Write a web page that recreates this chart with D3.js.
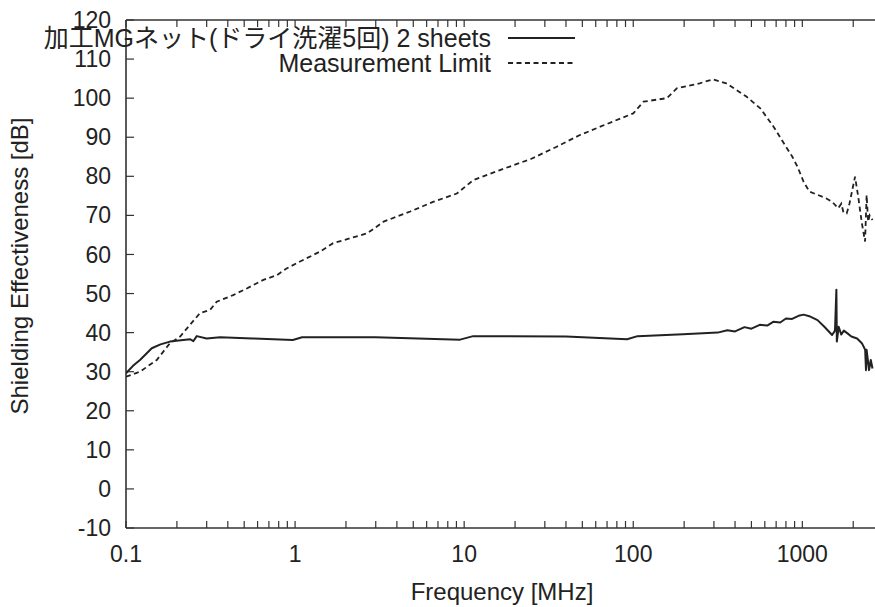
<!DOCTYPE html>
<html>
<head>
<meta charset="utf-8">
<script src="https://cdn.jsdelivr.net/npm/d3@7"></script>
<style>
  body { margin: 0; background: #fff; }
  svg { display: block; font-family: "Liberation Sans", Arial, "Noto Sans CJK JP", sans-serif; }
</style>
</head>
<body>
<svg id="chart" width="875" height="607"></svg>
<script>
// 加工MGネット(ドライ洗濯5回) 2 sheets
var freqMG = [0.1, 0.11, 0.121, 0.142, 0.16, 0.182, 0.218, 0.24, 0.25, 0.262, 0.3, 0.36, 0.56, 0.97, 1.1, 1.4, 3, 9.46, 11.3, 40, 92, 106, 197, 316, 360, 400, 455, 500, 560, 620, 676, 740, 800, 870, 950, 1018, 1100, 1230, 1350, 1500, 1560, 1590, 1600, 1640, 1700, 1760, 1850, 1950, 2108, 2250, 2353, 2380, 2400, 2440, 2480, 2540, 2600];
var seMG = [29.6, 31.5, 33, 36, 37, 37.7, 38.1, 38.3, 37.8, 39.1, 38.5, 38.8, 38.5, 38.1, 38.8, 38.8, 38.8, 38.2, 39.1, 39, 38.3, 39.1, 39.6, 40, 40.6, 40.3, 41.4, 41, 42, 41.8, 42.8, 42.6, 43.6, 43.5, 44.3, 44.6, 44.2, 43.2, 41.5, 39.4, 40.5, 51, 37.7, 41.5, 39.5, 40.5, 39.8, 39, 38.5, 37.3, 35.6, 30.4, 35.6, 33, 30.4, 33, 30.8];

// Measurement Limit
var freqLimit = [0.1, 0.121, 0.152, 0.182, 0.209, 0.239, 0.274, 0.314, 0.344, 0.43, 0.518, 0.65, 0.78, 0.89, 1.07, 1.4, 1.68, 2.67, 3.34, 4.8, 6.6, 9.05, 11.3, 16.3, 25, 35, 48, 63.8, 100, 115, 158, 181, 247, 295, 355, 467, 564, 676, 779, 873, 935, 1018, 1100, 1380, 1500, 1630, 1700, 1750, 1830, 1900, 2050, 2140, 2250, 2350, 2400, 2450, 2500, 2600];
var seLimit = [28.7, 30, 33, 37.3, 39, 42, 45, 45.8, 47.9, 49.6, 51.3, 53.5, 54.7, 56.4, 58.2, 60.7, 62.9, 65.4, 68.4, 71, 73.5, 75.6, 79, 81.6, 84.5, 87.5, 90.5, 92.7, 96.1, 99.1, 100, 102.5, 103.8, 104.8, 103.8, 100.4, 97.4, 92.7, 88.4, 85, 82.5, 78.6, 76.1, 74.4, 73.5, 71.8, 73, 70.8, 70.5, 73, 79.9, 74.8, 68, 63.3, 75.2, 68.4, 70, 68.8];

var xTicks = [0.1, 1, 10, 100, 1000];
var yTicks = [-10, 0, 10, 20, 30, 40, 50, 60, 70, 80, 90, 100, 110, 120];
var legendNames = ["加工MGネット(ドライ洗濯5回) 2 sheets", "Measurement Limit"];

var svg = d3.select("#chart");
// plot box (right side runs past the window, like the scan)
var plotL = 126, plotT = 20, plotB = 528, plotR = 883;
var ink = "#222";

var x = d3.scaleLog().domain([0.1, 3000]).range([plotL, plotR]);
var y = d3.scaleLinear().domain([-10, 120]).range([plotB, plotT]);

// minor ticks 2..9 of every decade
var minor = [];
for (var d = 0.1; d < 3000; d *= 10) {
  for (var k = 2; k <= 9; k++) {
    if (d * k <= 3000) minor.push(d * k);
  }
}

var frame = svg.append("g").attr("stroke", "#333").attr("stroke-width", 1.6).attr("fill", "none");
frame.append("line").attr("x1", plotL).attr("x2", plotL).attr("y1", plotT).attr("y2", plotB);
frame.append("line").attr("x1", plotL).attr("x2", 875).attr("y1", plotB).attr("y2", plotB);
frame.append("line").attr("x1", plotL).attr("x2", 875).attr("y1", plotT).attr("y2", plotT);

var tickLen = 7;
xTicks.concat(minor).forEach(function (v) {
  frame.append("line").attr("x1", x(v)).attr("x2", x(v)).attr("y1", plotB).attr("y2", plotB - tickLen).attr("stroke-width", 1.2);
  frame.append("line").attr("x1", x(v)).attr("x2", x(v)).attr("y1", plotT).attr("y2", plotT + tickLen).attr("stroke-width", 1.2);
});
yTicks.forEach(function (v) {
  frame.append("line").attr("x1", plotL).attr("x2", plotL + 8).attr("y1", y(v)).attr("y2", y(v)).attr("stroke-width", 1.2);
});

svg.append("g").selectAll("text").data(yTicks).enter().append("text")
  .attr("x", 111).attr("y", function (v) { return y(v); })
  .attr("dy", "0.35em").attr("text-anchor", "end")
  .attr("font-size", 23).attr("fill", ink)
  .text(function (v) { return v; });

svg.append("g").selectAll("text").data(xTicks).enter().append("text")
  .attr("x", function (v) { return x(v); }).attr("y", 562)
  .attr("text-anchor", "middle")
  .attr("font-size", 23).attr("fill", ink)
  .text(function (v) { return v; });

svg.append("text").attr("x", 502).attr("y", 600).attr("text-anchor", "middle")
  .attr("font-size", 24).attr("fill", ink).text("Frequency [MHz]");

svg.append("text").attr("transform", "translate(28,266) rotate(-90)")
  .attr("text-anchor", "middle").attr("font-size", 24).attr("fill", ink)
  .text("Shielding Effectiveness [dB]");

svg.append("clipPath").attr("id", "plot")
  .append("rect").attr("x", plotL).attr("y", plotT).attr("width", plotR - plotL).attr("height", plotB - plotT);

var line = d3.line()
  .x(function (p) { return x(p[0]); })
  .y(function (p) { return y(p[1]); });

var curves = svg.append("g").attr("clip-path", "url(#plot)").attr("fill", "none");
curves.append("path")
  .attr("d", line(d3.zip(freqLimit, seLimit)))
  .attr("stroke", ink).attr("stroke-width", 1.8).attr("stroke-dasharray", "5,3.5");
curves.append("path")
  .attr("d", line(d3.zip(freqMG, seMG)))
  .attr("stroke", ink).attr("stroke-width", 2).attr("stroke-linejoin", "round");

// legend
var legend = svg.append("g");
legendNames.forEach(function (name, i) {
  var ly = 38 + i * 25;
  legend.append("text").attr("x", 491).attr("y", ly + 9)
    .attr("text-anchor", "end").attr("font-size", 25).attr("fill", ink).text(name);
  legend.append("line").attr("x1", 508).attr("x2", 575).attr("y1", ly).attr("y2", ly)
    .attr("stroke", ink).attr("stroke-width", i == 0 ? 2 : 1.8)
    .attr("stroke-dasharray", i == 0 ? null : "5,3.5");
});
</script>
</body>
</html>
